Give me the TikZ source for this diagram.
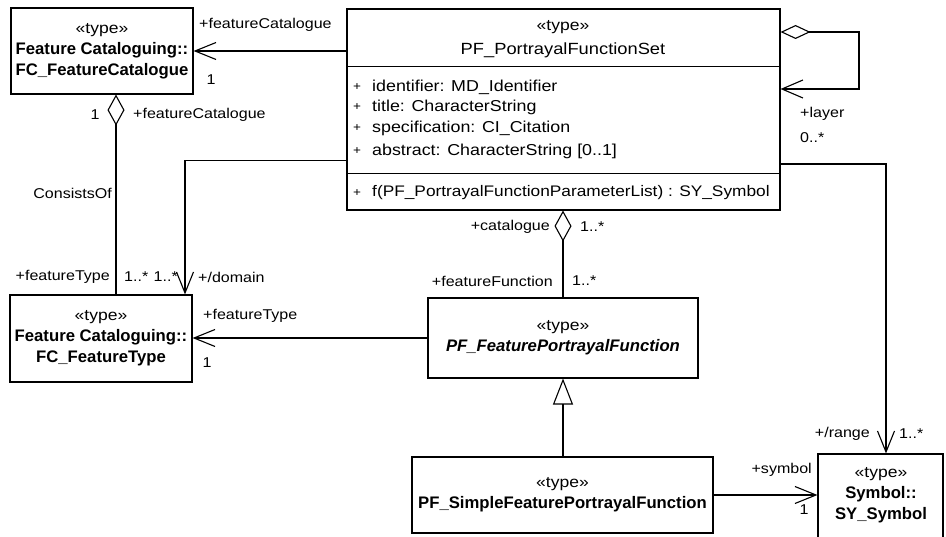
\documentclass[tikz,border=0pt]{standalone}
\usepackage{fontspec}
\setmainfont{Liberation Sans}
\newfontfamily\lblfont{Liberation Sans}[FakeStretch=1.13]
\usetikzlibrary{arrows.meta}

\newcommand\stereotype{{\lblfont\mdseries\upshape\fontsize{15.5}{19}\selectfont «type»}}

\tikzset{
  umlbox/.style={draw, line width=1.1pt, inner sep=0pt, align=center,
    font=\bfseries\fontsize{16.7}{21}\selectfont},
  role/.style={inner sep=0pt, font=\lblfont\fontsize{14.2}{16}\selectfont},
  attr/.style={inner sep=0pt, anchor=west, font=\lblfont\fontsize{15.8}{18}\selectfont},
  plussign/.style={inner sep=0pt, font=\lblfont\fontsize{12}{14}\selectfont},
  conn/.style={line width=1.1pt},
  nav/.style={conn, -{Straight Barb[length=21pt,width=17pt,line width=1.1pt]}},
  agg/.style={conn, {Diamond[open,length=31pt,width=17pt,line width=1.1pt]}-},
  selfagg/.style={conn, {Diamond[open,length=30pt,width=14pt,line width=1.1pt]}-{Straight Barb[length=21pt,width=18pt,line width=1.1pt]}},
  gen/.style={conn, -{Triangle[open,length=26pt,width=20pt,line width=1.1pt]}}
}

\begin{document}
\begin{tikzpicture}[x=1pt,y=-1pt]
\useasboundingbox (0,0) rectangle (946,537);
\clip (0,0) rectangle (946,537);

% classes
\node[umlbox, minimum width=182pt, minimum height=86pt] (fcc) at (102,51)
  {\stereotype\\Feature Cataloguing::\\FC\_FeatureCatalogue};
\node[umlbox, minimum width=182pt, minimum height=87pt] (fct) at (101,338.5)
  {\stereotype\\Feature Cataloguing::\\FC\_FeatureType};
\node[umlbox, minimum width=270pt, minimum height=80pt] (fpf) at (563,338)
  {\stereotype\\\textit{PF\_FeaturePortrayalFunction}};
\node[umlbox, minimum width=301pt, minimum height=76pt] (sfp) at (562.5,495)
  {\stereotype\\PF\_SimpleFeaturePortrayalFunction};
\node[umlbox, minimum width=125pt, minimum height=92pt] (sym) at (880.5,500) {};
\node[umlbox, draw=none] (symtxt) at (881,495) {\stereotype\\Symbol::\\SY\_Symbol};

% portrayal function set with its compartments
\node[draw, line width=1.1pt, inner sep=0pt, minimum width=433pt, minimum height=201pt] (pfs) at (563.5,109.5) {};
\draw[conn] ([yshift=-58pt]pfs.north west) -- ([yshift=-58pt]pfs.north east);
\draw[conn] ([yshift=-165pt]pfs.north west) -- ([yshift=-165pt]pfs.north east);
\node[inner sep=0pt] (pfsst) at (563,27) {\stereotype};
\node[inner sep=0pt, font=\lblfont\fontsize{16.2}{19}\selectfont] (pfsname) at (563,50) {PF\_PortrayalFunctionSet};
\node[plussign] (pa1) at (357,87) {+};
\node[plussign] (pa2) at (357,107) {+};
\node[plussign] (pa3) at (357,128) {+};
\node[plussign] (pa4) at (357,151) {+};
\node[plussign] (po1) at (357,193) {+};
\node[attr] (a1) at (372,87) {identifier: MD\_Identifier};
\node[attr] (a2) at (372,107) {title: CharacterString};
\node[attr] (a3) at (372,128) {specification: CI\_Citation};
\node[attr] (a4) at (372,151) {abstract: CharacterString [0..1]};
\node[attr, font=\lblfont\fontsize{15.3}{18}\selectfont] (o1) at (372,193) {f(PF\_PortrayalFunctionParameterList) : SY\_Symbol};

% associations
\draw[nav] (pfs.west |- fcc.east) -- (fcc.east);
\draw[agg] ([xshift=14pt]fcc.south) -- ([xshift=14pt]fcc.south |- fct.north);
\draw[nav] ([yshift=-152pt]pfs.north west) -| ([xshift=84pt]fct.north);
\draw[agg] (fpf.north |- pfs.south) -- (fpf.north);
\draw[nav] (fpf.west) -- (fct.east |- fpf.west);
\draw[gen] (sfp.north -| fpf.south) -- (fpf.south);
\draw[nav] (sfp.east) -- (sym.west |- sfp.east);
\coordinate (rangeknee) at (886,164);
\draw[nav] (pfs.east |- rangeknee) -- (rangeknee) -- (rangeknee |- sym.north);
\coordinate (selftop) at (859,32);
\coordinate (selfbot) at (859,89);
\draw[selfagg] (pfs.east |- selftop) -- (selftop) -- (selfbot) -- (pfs.east |- selfbot);

% role names and multiplicities
\node[role, anchor=west] (r1) at (199,25) {+featureCatalogue};
\node[role] (m1) at (211,80) {1};
\node[role] (m2) at (95,115) {1};
\node[role, anchor=west] (r2) at (133,115) {+featureCatalogue};
\node[role, anchor=east] (n1) at (112,193) {ConsistsOf};
\node[role, anchor=east] (r3) at (110,277) {+featureType};
\node[role, anchor=west] (m3) at (124,277) {1..*};
\node[role, anchor=east] (m4) at (178,277) {1..*};
\node[role, anchor=west] (r4) at (198,277) {+/domain};
\node[role, anchor=west] (r5) at (203,316) {+featureType};
\node[role] (m5) at (207,363) {1};
\node[role, anchor=east] (r6) at (550,227) {+catalogue};
\node[role, anchor=west] (m6) at (580,227) {1..*};
\node[role, anchor=east] (r7) at (553,281) {+featureFunction};
\node[role, anchor=west] (m7) at (572,281) {1..*};
\node[role, anchor=west] (r8) at (800,114) {+layer};
\node[role, anchor=west] (m8) at (800,138) {0..*};
\node[role, anchor=east] (r9) at (870,434) {+/range};
\node[role, anchor=west] (m9) at (899,434) {1..*};
\node[role, anchor=east] (r10) at (812,470) {+symbol};
\node[role] (m10) at (804,510) {1};
\end{tikzpicture}
\end{document}
